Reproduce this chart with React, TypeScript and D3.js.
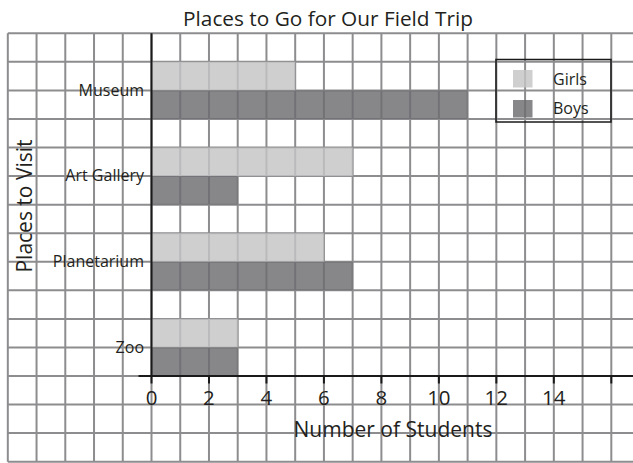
import React from "react";
import * as d3 from "d3";

const categories = ["Museum", "Art Gallery", "Planetarium", "Zoo"];
const girls = [5, 7, 6, 3];
const boys = [11, 3, 7, 3];
const xTicks = [0, 2, 4, 6, 8, 10, 12, 14, 16];
const xTickLabels = ["0", "2", "4", "6", "8", "10", "12", "14", ""];
const seriesNames = ["Girls", "Boys"];
const seriesColors = ["#c4c4c6", "#6c6c70"];

const W = 633;
const H = 463;
const FONT = "'Open Sans', 'Noto Sans', sans-serif";

export default function App() {
  const x = d3.scaleLinear().domain([0, 16]).range([151.5, 611.3]);
  const top = 33.3;
  const axisY = 376;
  const y = d3.scaleBand().domain(categories).range([top, axisY]).paddingInner(0).paddingOuter(0);
  const cell = y.bandwidth() / 3;
  const gridLeft = x(-5);
  const bottom = axisY + 3 * cell;

  const vLines = d3.range(-5, 18);
  const hLines = d3.range(0, 16);

  const series = [girls, boys];

  return (
    <svg width={W} height={H} style={{ position: "absolute", left: 0, top: 0 }} fontFamily={FONT}>
      <rect x={0} y={0} width={W} height={H} fill="#ffffff" />
      {/* grid */}
      <g stroke="#8d8d8f" strokeWidth={2}>
        {vLines.map((v) => (
          <line key={"v" + v} x1={x(v)} x2={x(v)} y1={top} y2={bottom} />
        ))}
        {hLines.map((k) => (
          <line key={"h" + k} x1={gridLeft} x2={W} y1={top + k * cell} y2={top + k * cell} />
        ))}
      </g>
      {/* bars */}
      {series.map((vals, si) => (
        <g key={si} fill={seriesColors[si]} fillOpacity={0.82}>
          {categories.map((c, i) => (
            <rect
              key={c}
              x={x(0)}
              y={(y(c) as number) + cell * (si + 1)}
              width={x(vals[i]) - x(0)}
              height={cell}
            />
          ))}
        </g>
      ))}
      {/* axes */}
      <line x1={x(0)} x2={x(0)} y1={top} y2={axisY} stroke="#1a1a1a" strokeWidth={2} />
      <line x1={x(0) - 13} x2={W} y1={axisY} y2={axisY} stroke="#1a1a1a" strokeWidth={2} />
      {xTicks.map((t, i) => (
        <g key={t}>
          <line x1={x(t)} x2={x(t)} y1={axisY} y2={axisY + 7.5} stroke="#1a1a1a" strokeWidth={2} />
          <text x={x(t)} y={405} textAnchor="middle" fontSize={20.5} fill="#231f20">
            {xTickLabels[i]}
          </text>
        </g>
      ))}
      {/* category labels */}
      {categories.map((c) => (
        <text
          key={c}
          x={144}
          y={(y(c) as number) + cell * 2}
          dy="0.33em"
          textAnchor="end"
          fontSize={16}
          fill="#231f20"
        >
          {c}
        </text>
      ))}
      {/* titles */}
      <text x={328} y={26} textAnchor="middle" fontSize={20.8} fill="#231f20">
        Places to Go for Our Field Trip
      </text>
      <text x={393} y={437} textAnchor="middle" fontSize={21} fill="#231f20">
        Number of Students
      </text>
      <text
        transform={`translate(32,206) rotate(-90)`}
        textAnchor="middle"
        fontSize={21}
        fill="#231f20"
      >
        Places to Visit
      </text>
      {/* legend */}
      <rect x={496} y={59.5} width={115} height={62.5} fill="none" stroke="#1a1a1a" strokeWidth={1.5} />
      {seriesNames.map((n, i) => (
        <g key={n}>
          <rect x={513} y={70 + i * 30} width={19.5} height={17.5} fill={seriesColors[i]} fillOpacity={0.82} />
          <text x={553} y={85 + i * 28.5} fontSize={16} fill="#231f20">
            {n}
          </text>
        </g>
      ))}
    </svg>
  );
}
